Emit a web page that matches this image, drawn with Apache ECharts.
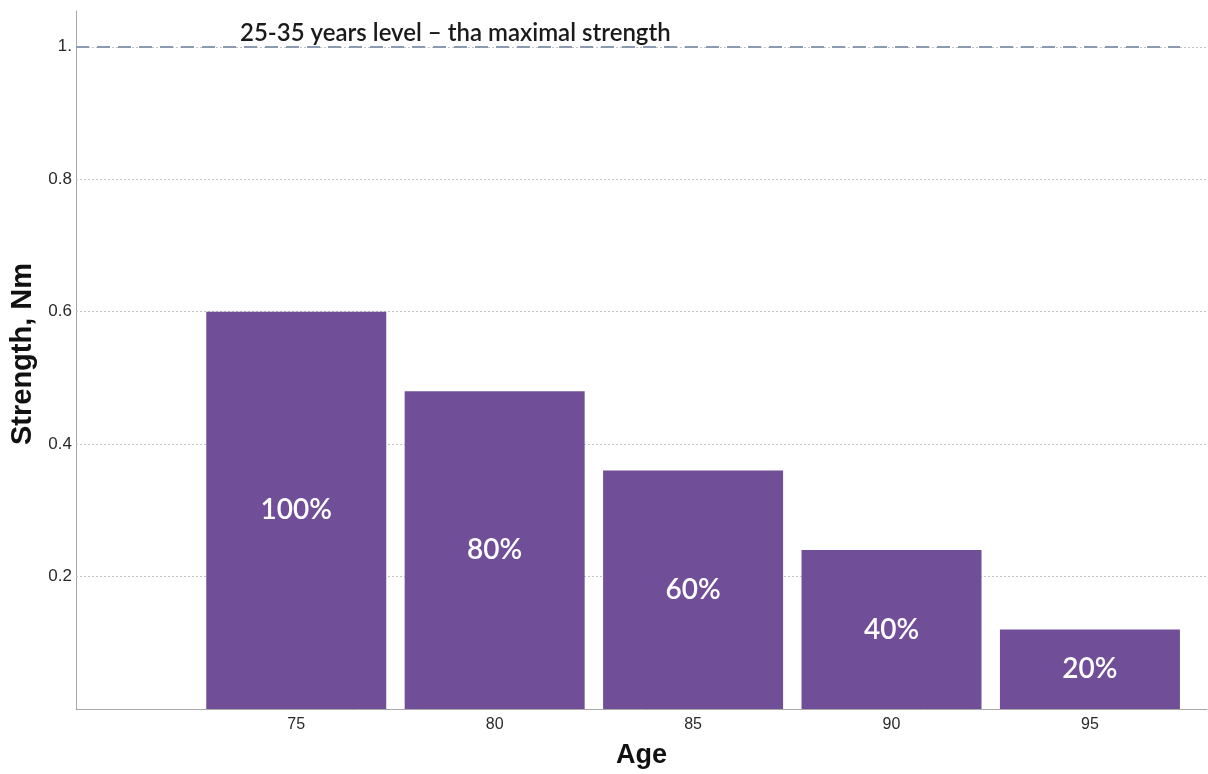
<!DOCTYPE html>
<html>
<head>
<meta charset="utf-8">
<script src="https://cdn.jsdelivr.net/npm/echarts@6/dist/echarts.min.js"></script>
<style>
  html, body { margin: 0; padding: 0; background: #ffffff; }
  #chart { width: 1208px; height: 774px; }
</style>
</head>
<body>
<div id="chart"></div>
<script>
// Strength by age, relative to the young-adult maximum
const ages = [75, 80, 85, 90, 95];
const strength = [0.60, 0.48, 0.36, 0.24, 0.12];
const shareLabels = ['100%', '80%', '60%', '40%', '20%'];
const yTicks = [0.2, 0.4, 0.6, 0.8, 1.0];
const yTickLabels = ['0.2', '0.4', '0.6', '0.8', '1.'];
const maxLevel = 1.0;
const maxLevelText = '25-35 years level \u2013 tha maximal strength';

// Axis extents
const xMin = 69.45, xMax = 97.95, xLineEnd = 97.27;
const yMin = 0, yMax = 1.054;

const chart = echarts.init(document.getElementById('chart'), null, { renderer: 'canvas' });

chart.setOption({
  animation: false,
  backgroundColor: '#ffffff',
  title: {
    text: maxLevelText,
    left: 235,
    top: 16,
    textStyle: { fontFamily: 'Lato', fontSize: 24, fontWeight: 600, color: '#1a1a1a' }
  },
  grid: { left: 76, right: 1, top: 11, bottom: 61, containLabel: false },
  xAxis: {
    type: 'value',
    min: xMin,
    max: xMax,
    name: 'Age',
    nameLocation: 'middle',
    nameGap: 33,
    nameTextStyle: { fontFamily: 'Liberation Sans', fontSize: 27, fontWeight: 'bold', color: '#111' },
    axisLine: { show: true, lineStyle: { color: '#a8a8a8', width: 1 } },
    axisTick: { show: false },
    splitLine: { show: false },
    axisLabel: {
      customValues: ages,
      fontFamily: 'Liberation Sans',
      fontSize: 16,
      color: '#2a2a2a',
      margin: 8
    }
  },
  yAxis: {
    type: 'value',
    min: yMin,
    max: yMax,
    name: 'Strength, Nm',
    nameLocation: 'middle',
    nameGap: 37,
    nameTextStyle: {
      fontFamily: 'Liberation Sans', fontSize: 29, fontWeight: 'bold', color: '#111',
      padding: [0, 0, 0, 12]
    },
    axisLine: { show: true, lineStyle: { color: '#a8a8a8', width: 1 } },
    axisTick: { show: false },
    splitLine: { show: false },
    axisLabel: {
      customValues: yTicks,
      formatter: function (v) {
        const i = yTicks.findIndex(function (t) { return Math.abs(t - v) < 1e-9; });
        return i >= 0 ? yTickLabels[i] : '';
      },
      fontFamily: 'Liberation Sans',
      fontSize: 17,
      color: '#2a2a2a',
      margin: 4
    }
  },
  series: [
    {
      type: 'bar',
      data: ages.map(function (a, i) { return [a, strength[i]]; }),
      barWidth: 180,
      itemStyle: { color: '#704f98' },
      label: {
        show: true,
        position: 'inside',
        formatter: function (p) { return shareLabels[p.dataIndex]; },
        fontFamily: 'Lato',
        fontSize: 28,
        fontWeight: 600,
        color: '#ffffff'
      },
      markLine: {
        silent: true,
        symbol: ['none', 'none'],
        label: { show: false },
        z: 1,
        data: yTicks.map(function (t) {
          return { yAxis: t, lineStyle: { color: '#c4c4c4', width: 1, type: [2, 2] } };
        })
      },
      z: 2
    },
    {
      type: 'line',
      data: [],
      markLine: {
        silent: true,
        symbol: ['none', 'none'],
        label: { show: false },
        z: 3,
        data: [[
          { coord: [xMin, maxLevel] },
          { coord: [xLineEnd, maxLevel] }
        ]],
        lineStyle: { color: '#8a9ab0', width: 2, type: [13, 8] }
      }
    }
  ]
});
</script>
</body>
</html>
